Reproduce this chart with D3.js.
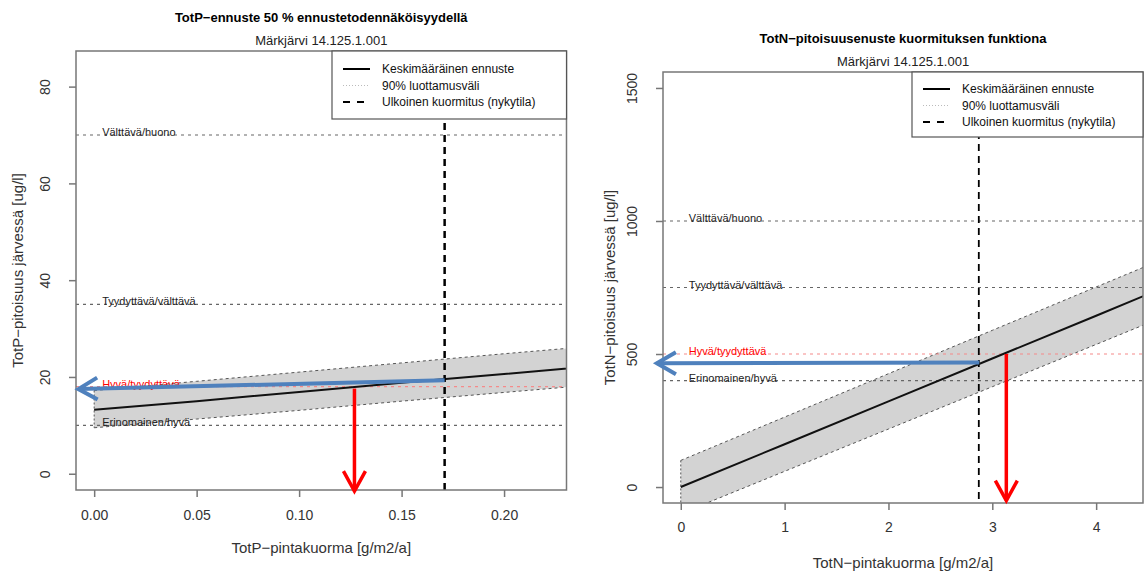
<!DOCTYPE html>
<html>
<head>
<meta charset="utf-8">
<script src="https://cdn.jsdelivr.net/npm/d3@7"></script>
<style>
  body { margin: 0; background: #fff; }
  svg { font-family: "Liberation Sans", Arial, sans-serif; }
</style>
</head>
<body>
<script>
// ---- data ----
var classLabels = ["Välttävä/huono", "Tyydyttävä/välttävä", "Hyvä/tyydyttävä", "Erinomainen/hyvä"];
var legendLabels = ["Keskimääräinen ennuste", "90% luottamusväli", "Ulkoinen kuormitus (nykytila)"];

// TotP
var pLoad  = [0, 0.05, 0.10, 0.15, 0.20, 0.25];
var pMean  = [13.2, 15.0, 16.9, 18.8, 20.6, 22.5];
var pUpper = [17.2, 19.1, 21.0, 22.9, 24.8, 26.6];
var pLower = [9.5, 11.3, 13.1, 15.0, 16.8, 18.6];
var pLimits = [70, 35, 18, 10];
var pTicksX = [0, 0.05, 0.10, 0.15, 0.20];
var pTicksY = [0, 20, 40, 60, 80];
var pXlim = [0, 0.2216], pYlim = [0, 84];
var pCurrent = 0.171;
var pBlue = [[0.171, 19.3], [-0.0077, 17.5]];
var pRed = [[0.127, 17.6], [0.127, -3.6]];

// TotN
var nLoad  = [0, 1, 2, 3, 4, 4.5];
var nMean  = [0, 161, 322, 483, 644, 725];
var nUpper = [100, 263, 426, 589, 752, 833];
var nLower = [-100, 59, 218, 377, 536, 616];
var nLimits = [1000, 750, 500, 400];
var nTicksX = [0, 1, 2, 3, 4];
var nTicksY = [0, 500, 1000, 1500];
var nXlim = [0, 4.28], nYlim = [0, 1500];
var nCurrent = 2.87;
var nBlue = [[2.875, 468], [-0.23, 465]];
var nRed = [[3.135, 500], [3.135, -51]];

var svg = d3.select("body").append("svg").attr("width", 1146).attr("height", 574);

var blue = "#4f81bd", red = "#ff0000", axisGray = "#777";

function ext(lim) { var d = (lim[1] - lim[0]) * 0.04; return [lim[0] - d, lim[1] + d]; }

function drawPanel(p) {
  var g = svg.append("g");
  var x = d3.scaleLinear().domain(ext(p.xlim)).range([p.left, p.right]);
  var y = d3.scaleLinear().domain(ext(p.ylim)).range([p.bottom, p.top]);

  var clipId = "clip" + p.id;
  svg.append("clipPath").attr("id", clipId).append("rect")
    .attr("x", p.left).attr("y", p.top).attr("width", p.right - p.left).attr("height", p.bottom - p.top);
  var plot = g.append("g").attr("clip-path", "url(#" + clipId + ")");

  var rows = p.load.map(function(v, i) { return {x: v, m: p.mean[i], u: p.upper[i], l: p.lower[i]}; });

  // confidence band
  plot.append("path").datum(rows)
    .attr("d", d3.area().x(function(d) { return x(d.x); }).y0(function(d) { return y(d.l); }).y1(function(d) { return y(d.u); }))
    .attr("fill", "#d3d3d3").attr("stroke", "none");
  ["u", "l"].forEach(function(k) {
    plot.append("path").datum(rows)
      .attr("d", d3.line().x(function(d) { return x(d.x); }).y(function(d) { return y(d[k]); }))
      .attr("fill", "none").attr("stroke", "#555").attr("stroke-width", 1).attr("stroke-dasharray", "3,3");
  });
  plot.append("line")
    .attr("x1", x(rows[0].x)).attr("x2", x(rows[0].x))
    .attr("y1", y(rows[0].u)).attr("y2", y(rows[0].l))
    .attr("stroke", "#555").attr("stroke-dasharray", "2,2");

  // class limits
  p.limits.forEach(function(v, i) {
    var isRed = i == 2;
    plot.append("line")
      .attr("x1", p.left).attr("x2", p.right).attr("y1", y(v)).attr("y2", y(v))
      .attr("stroke", isRed ? "#f58a8a" : "#666").attr("stroke-width", 1.2).attr("stroke-dasharray", "3,4");
    g.append("text")
      .attr("x", x(0) + 8).attr("y", y(v) + 1)
      .attr("font-size", 11).attr("fill", isRed ? red : "#222")
      .text(classLabels[i]);
  });

  // mean line
  plot.append("path").datum(rows)
    .attr("d", d3.line().x(function(d) { return x(d.x); }).y(function(d) { return y(d.m); }))
    .attr("fill", "none").attr("stroke", "#111").attr("stroke-width", 2);

  // current load
  plot.append("line")
    .attr("x1", x(p.current)).attr("x2", x(p.current)).attr("y1", p.top).attr("y2", p.bottom)
    .attr("stroke", "#000").attr("stroke-width", p.curWidth).attr("stroke-dasharray", "7,5");

  // box
  g.append("rect")
    .attr("x", p.left).attr("y", p.top).attr("width", p.right - p.left).attr("height", p.bottom - p.top)
    .attr("fill", "none").attr("stroke", axisGray).attr("stroke-width", 1.5);

  // axes
  var xa = g.append("g").attr("transform", "translate(0," + p.bottom + ")")
    .call(d3.axisBottom(x).tickValues(p.ticksX).tickFormat(p.fmtX).tickSize(7).tickSizeOuter(0));
  xa.select(".domain").remove();
  xa.selectAll("line").attr("stroke", axisGray).attr("stroke-width", 1.5);
  xa.selectAll("text").attr("font-size", 14).attr("fill", "#333").attr("font-family", null).attr("dy", null).attr("y", p.xTickY);

  var ya = g.append("g").attr("transform", "translate(" + p.left + ",0)")
    .call(d3.axisLeft(y).tickValues(p.ticksY).tickFormat(d3.format("d")).tickSize(7).tickSizeOuter(0));
  ya.select(".domain").remove();
  ya.selectAll("line").attr("stroke", axisGray).attr("stroke-width", 1.5);
  ya.selectAll("text").attr("font-size", 14).attr("fill", "#333").attr("font-family", null)
    .attr("x", null).attr("dy", null)
    .attr("text-anchor", "middle")
    .attr("transform", "translate(" + (-p.yTickX) + ",0) rotate(-90)")
    .attr("dominant-baseline", "central");

  // titles
  var cx = (p.left + p.right) / 2;
  g.append("text").attr("x", cx).attr("y", p.titleY).attr("text-anchor", "middle")
    .attr("font-size", 13).attr("font-weight", "bold").text(p.title);
  g.append("text").attr("x", cx).attr("y", p.top - 6).attr("text-anchor", "middle")
    .attr("font-size", 13).attr("fill", "#222").text("Märkjärvi 14.125.1.001");
  g.append("text").attr("x", cx).attr("y", p.xTitleY).attr("text-anchor", "middle")
    .attr("font-size", 15).attr("fill", "#333").text(p.xTitle);
  g.append("text").attr("transform", "translate(" + p.yTitleX + "," + ((p.top + p.bottom) / 2) + ") rotate(-90)")
    .attr("text-anchor", "middle").attr("font-size", 15).attr("fill", "#333").text(p.yTitle);

  // legend
  var lg = g.append("g");
  lg.append("rect").attr("x", p.legLeft).attr("y", p.top).attr("width", p.right - p.legLeft).attr("height", p.legH)
    .attr("fill", "#fff").attr("stroke", "#555").attr("stroke-width", 1.2);
  var styles = [
    {stroke: "#000", w: 2, dash: null},
    {stroke: "#bbb", w: 1, dash: "1,2"},
    {stroke: "#000", w: 2, dash: "7,7"}
  ];
  legendLabels.forEach(function(t, i) {
    var ry = p.top + p.legY0 + i * p.legStep;
    lg.append("line").attr("x1", p.legLeft + 11).attr("x2", p.legLeft + 38).attr("y1", ry).attr("y2", ry)
      .attr("stroke", styles[i].stroke).attr("stroke-width", styles[i].w).attr("stroke-dasharray", styles[i].dash);
    lg.append("text").attr("x", p.legLeft + 50).attr("y", ry).attr("dominant-baseline", "central")
      .attr("font-size", 12).attr("fill", "#111").text(t);
  });

  // arrows
  function arrow(pts, color, w, back, half) {
    var x1 = x(pts[0][0]), y1 = y(pts[0][1]), x2 = x(pts[1][0]), y2 = y(pts[1][1]);
    var a = Math.atan2(y2 - y1, x2 - x1);
    var bx = x2 - back * Math.cos(a), by = y2 - back * Math.sin(a);
    var nx = -Math.sin(a) * half, ny = Math.cos(a) * half;
    g.append("line").attr("x1", x1).attr("y1", y1).attr("x2", x2).attr("y2", y2)
      .attr("stroke", color).attr("stroke-width", w);
    g.append("path")
      .attr("d", "M" + (bx + nx) + "," + (by + ny) + "L" + x2 + "," + y2 + "L" + (bx - nx) + "," + (by - ny))
      .attr("fill", "none").attr("stroke", color).attr("stroke-width", w).attr("stroke-linejoin", "miter");
  }
  arrow(p.blue, blue, 4, 19, 11);
  arrow(p.red, red, 3.5, 20, 11);
}

drawPanel({
  id: "p", left: 76, right: 566.5, top: 51, bottom: 490,
  xlim: pXlim, ylim: pYlim, load: pLoad, mean: pMean, upper: pUpper, lower: pLower,
  limits: pLimits, ticksX: pTicksX, ticksY: pTicksY, fmtX: d3.format(".2f"),
  current: pCurrent, curWidth: 2.5, blue: pBlue, red: pRed,
  title: "TotP\u2212ennuste 50 % ennustetodennäköisyydellä", titleY: 22,
  xTitle: "TotP\u2212pintakuorma [g/m2/a]", yTitle: "TotP\u2212pitoisuus järvessä [ug/l]",
  xTickY: 30, yTickX: 31, xTitleY: 553, yTitleX: 23,
  legLeft: 332, legH: 68, legY0: 18, legStep: 16.5
});

drawPanel({
  id: "n", left: 663, right: 1143, top: 72, bottom: 503,
  xlim: nXlim, ylim: nYlim, load: nLoad, mean: nMean, upper: nUpper, lower: nLower,
  limits: nLimits, ticksX: nTicksX, ticksY: nTicksY, fmtX: d3.format("d"),
  current: nCurrent, curWidth: 1.8, blue: nBlue, red: nRed,
  title: "TotN\u2212pitoisuusenuste kuormituksen funktiona", titleY: 43,
  xTitle: "TotN\u2212pintakuorma [g/m2/a]", yTitle: "TotN\u2212pitoisuus järvessä [ug/l]",
  xTickY: 29, yTickX: 31, xTitleY: 568, yTitleX: 615,
  legLeft: 912, legH: 65, legY0: 17, legStep: 16.5
});
</script>
</body>
</html>
